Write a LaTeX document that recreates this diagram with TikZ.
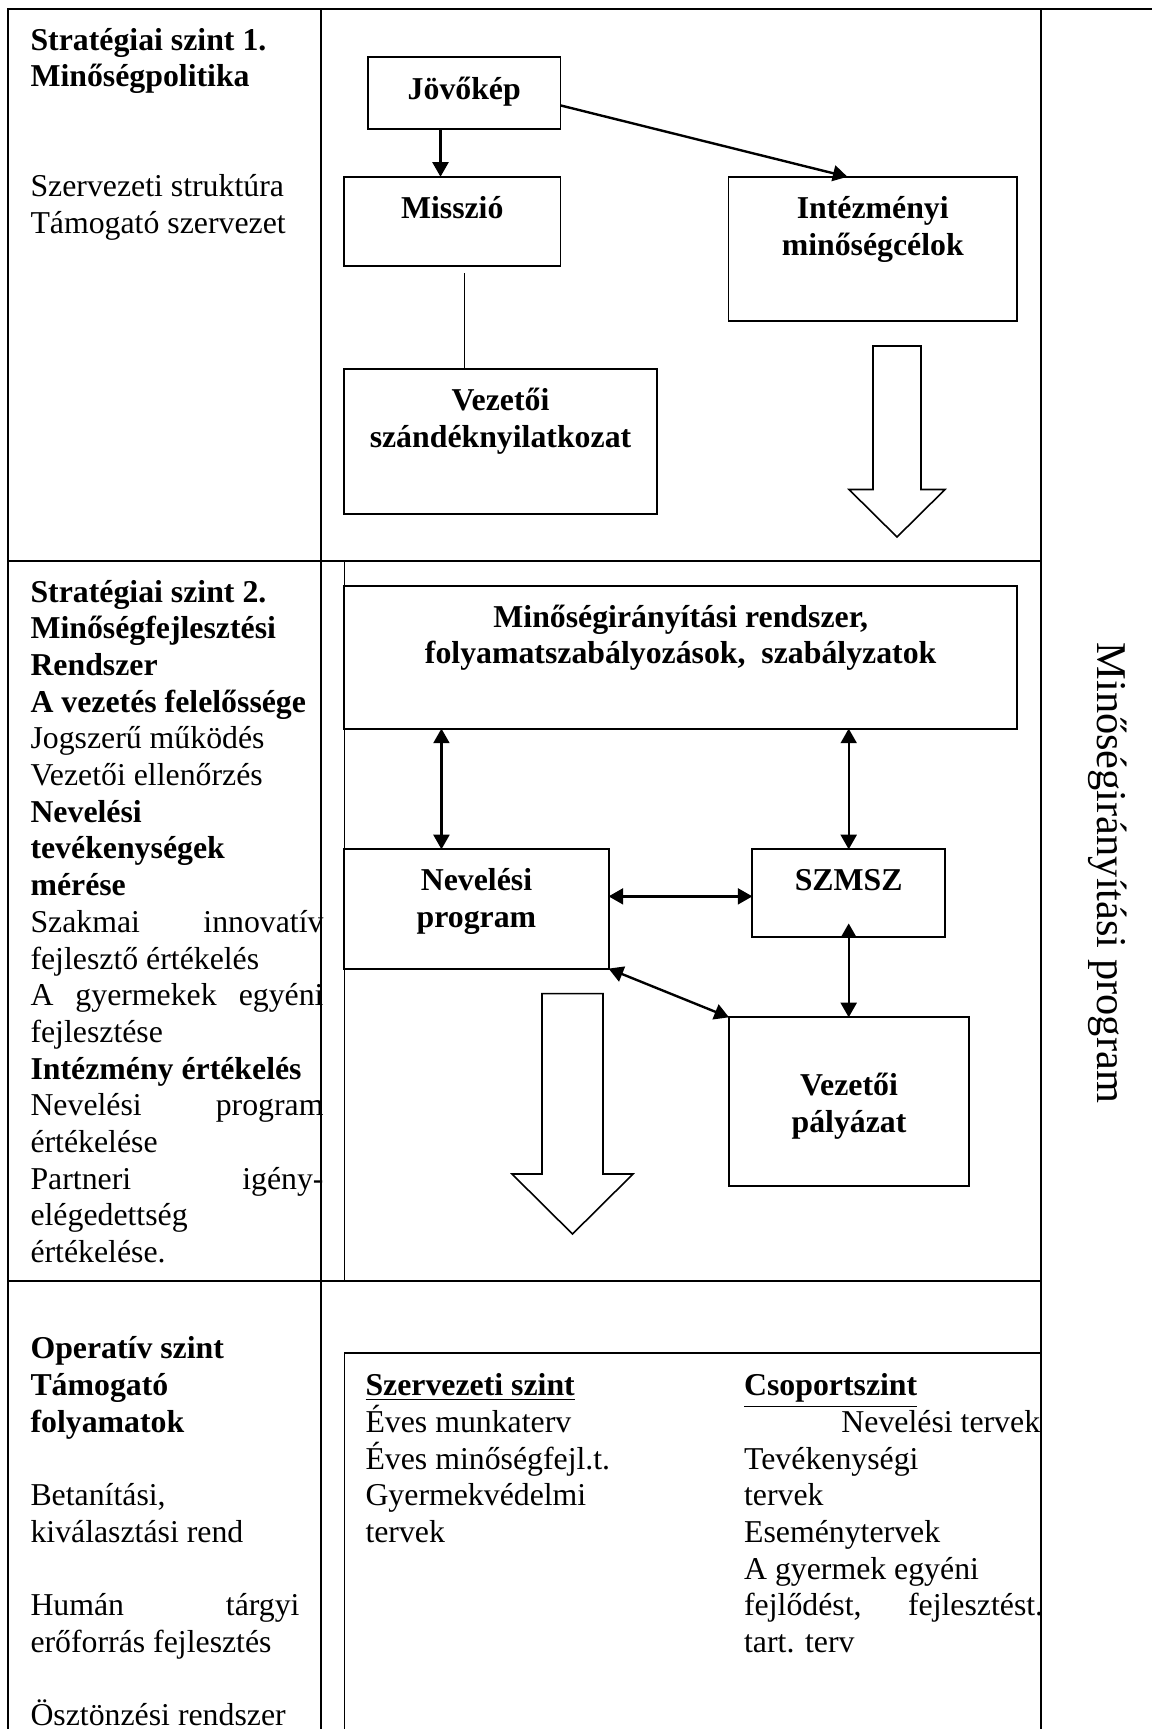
\documentclass[tikz,border=0pt]{standalone}
\usepackage{fontspec}
\setmainfont{Liberation Serif}
\usetikzlibrary{arrows.meta,calc}

% one drawing unit = one pixel of the 1152 x 1729 sheet
\newcommand\pxl[1]{#1*0.37736pt}
\newcommand\pxd[1]{\dimexpr #1pt*37736/100000\relax}
% a column of text lines set with a fixed line pitch
\newcommand\txtcol[2]{\vtop{\hsize=#1\baselineskip=13.85pt\lineskiplimit=-100pt\lineskip=0pt\parindent=0pt #2}}
\newcommand\tline[1]{\hbox{#1}}
\newcommand\jline[2]{\hbox to\hsize{#1\hfill #2}}
\newcommand\ctrline[1]{\hbox to\hsize{\hfil #1\hfil}}
\newcommand\blankline{\hbox{}}

\tikzset{
  tbl/.style={line width=0.75pt},
  box/.style={draw, line width=0.75pt, inner sep=0pt, outer sep=0pt, anchor=north west},
  btxt/.style={anchor=base, inner sep=0pt, font=\fontsize{12}{13.85}\selectfont\bfseries},
  ltxt/.style={anchor=base west, inner sep=0pt, font=\fontsize{12}{13.85}\selectfont},
  arrowtip/.tip={Triangle[length=5.5pt,width=6pt]},
  arr/.style={-arrowtip, line width=0.9pt},
  darr/.style={arrowtip-arrowtip, line width=0.9pt},
  link/.style={line width=0.5pt},
  block/.style={line width=0.6pt, fill=white, line join=miter}
}

\begin{document}
\begin{tikzpicture}[x=0.37736pt, y=-0.37736pt]
\useasboundingbox (0,0) rectangle (1152,1729);

% ---- table grid ----
\draw[tbl] (7,9) -- (1152,9);
\draw[tbl] (8,9) -- (8,1729);
\draw[tbl] (321,9) -- (321,1729);
\draw[tbl] (1041,9) -- (1041,1729);
\draw[tbl] (8,561) -- (1041,561);
\draw[tbl] (344.5,561) -- (344.5,1281);
\draw[tbl] (8,1281) -- (1041,1281);
% frame of the operative-level box
\draw[tbl] (344.5,1729) -- (344.5,1353) -- (1041,1353);

% ---- left column texts ----
\node[ltxt] (lev1) at (30,50) {\txtcol{\pxd{293}}{\bfseries
  \tline{Stratégiai szint 1.}
  \tline{Minőségpolitika}
  \blankline\blankline\mdseries
  \tline{Szervezeti struktúra}
  \tline{Támogató szervezet}}};

\node[ltxt] (lev2) at (30,602) {\txtcol{\pxd{293}}{\bfseries
  \tline{Stratégiai szint 2.}
  \tline{Minőségfejlesztési}
  \tline{Rendszer}
  \tline{A vezetés felelőssége}\mdseries
  \tline{Jogszerű működés}
  \tline{Vezetői ellenőrzés}\bfseries
  \tline{Nevelési}
  \tline{tevékenységek}
  \tline{mérése}\mdseries
  \jline{Szakmai}{innovatív}
  \tline{fejlesztő értékelés}
  \hbox to\hsize{A\hfill gyermekek\hfill egyéni}
  \tline{fejlesztése}
  \tline{\bfseries Intézmény értékelés}
  \jline{Nevelési}{program}
  \tline{értékelése}
  \jline{Partneri}{igény-}
  \tline{elégedettség}
  \tline{értékelése.}}};

\node[ltxt] (lev3) at (30,1322) {\txtcol{\pxd{269}}{
  \blankline\bfseries
  \tline{Operatív szint}
  \tline{Támogató}
  \tline{folyamatok}
  \blankline\mdseries
  \tline{Betanítási,}
  \tline{kiválasztási rend}
  \blankline
  \jline{Humán}{tárgyi}
  \tline{erőforrás fejlesztés}
  \blankline
  \tline{Ösztönzési rendszer}}};

% ---- strategic level 1 ----
\node[box, minimum width=\pxl{192.5}, minimum height=\pxl{72.1}] (jov) at (368,56.6) {};
\node[box, minimum width=\pxl{216.5}, minimum height=\pxl{88.8}] (mis) at (344,176.8) {};
\node[box, minimum width=\pxl{288.5}, minimum height=\pxl{144.2}] (int) at (728.5,176.8) {};
\node[box, minimum width=\pxl{313}, minimum height=\pxl{144.5}] (vsz) at (344,369) {};

\node[btxt] (jov-t) at ($(jov.north)+(0,42.5)$) {\txtcol{\pxd{180}}{\ctrline{Jövőkép}}};
\node[btxt] (mis-t) at ($(mis.north)+(0,41.5)$) {\txtcol{\pxd{200}}{\ctrline{Misszió}}};
\node[btxt] (int-t) at ($(int.north)+(0,41.5)$) {\txtcol{\pxd{280}}{\ctrline{Intézményi}\ctrline{minőségcélok}}};
\node[btxt] (vsz-t) at ($(vsz.north)+(0,41.5)$) {\txtcol{\pxd{300}}{\ctrline{Vezetői}\ctrline{szándéknyilatkozat}}};

\coordinate (a1) at ($(jov.south)+(-23.75,0)$);
\draw[arr] (a1) -- (a1 |- mis.north);
\coordinate (a2s) at ($(jov.east)+(0,12.75)$);
\coordinate (a2e) at ($(int.north)+(-25.25,0)$);
\draw[arr] (a2s) -- (a2e);
\coordinate (l1) at ($(mis.south)+(12.25,7.4)$);
\draw[link] (l1) -- (l1 |- vsz.north);

\draw[block] (873,346) -- (921,346) -- (921,489.5) -- (945,489.5) -- (897,537)
  -- (849,489.5) -- (873,489.5) -- cycle;

% ---- strategic level 2 ----
\node[box, minimum width=\pxl{672.7}, minimum height=\pxl{142.9}] (mir) at (344.3,585.7) {};
\node[box, minimum width=\pxl{264.3}, minimum height=\pxl{119.3}] (nev) at (344.3,849.3) {};
\node[box, minimum width=\pxl{192.6}, minimum height=\pxl{88.1}] (szm) at (752.4,849.3) {};
\node[box, minimum width=\pxl{240}, minimum height=\pxl{168.4}] (vpa) at (729,1017.3) {};

\node[btxt] (mir-t) at ($(mir.north)+(0,41.5)$) {\txtcol{\pxd{660}}{\ctrline{Minőségirányítási rendszer,}\ctrline{folyamatszabályozások,\ \ szabályzatok}}};
\node[btxt] (nev-t) at ($(nev.north)+(0,41.5)$) {\txtcol{\pxd{250}}{\ctrline{Nevelési}\ctrline{program}}};
\node[btxt] (szm-t) at ($(szm.north)+(0,41.5)$) {\txtcol{\pxd{180}}{\ctrline{SZMSZ}}};
\node[btxt] (vpa-t) at ($(vpa.north)+(0,78.2)$) {\txtcol{\pxd{230}}{\ctrline{Vezetői}\ctrline{pályázat}}};

\coordinate (a3) at ($(nev.north)+(-35,0)$);
\draw[darr] (a3 |- mir.south) -- (a3);
\draw[darr] (szm.north |- mir.south) -- (szm.north);
\coordinate (a4) at ($(szm.west)+(0,3)$);
\draw[darr] (a4 -| nev.east) -- (a4);
\coordinate (a5) at ($(szm.south)+(0,-14)$);
\draw[darr] (a5) -- (a5 |- vpa.north);
\draw[darr] (nev.south east) -- (vpa.north west);

\draw[block] (542,993.6) -- (603,993.6) -- (603,1174) -- (633,1174) -- (572.5,1234)
  -- (512,1174) -- (542,1174) -- cycle;

% ---- operative level ----
\node[ltxt] (org) at (365,1395.6) {\txtcol{\pxd{300}}{
  \tline{\bfseries\underline{Szervezeti szint}}
  \tline{Éves munkaterv}
  \tline{Éves minőségfejl.t.}
  \tline{Gyermekvédelmi}
  \tline{tervek}}};
\node[ltxt] (grp) at (743.6,1395.6) {\txtcol{\pxd{296}}{
  \tline{\bfseries\underline{Csoportszint}}
  \hbox to\hsize{\hfill Nevelési tervek}
  \tline{Tevékenységi}
  \tline{tervek}
  \tline{Eseménytervek}
  \tline{A gyermek egyéni}
  \hbox to\pxd{299}{fejlődést,\hfill fejlesztést.}
  \tline{tart. terv}}};

% ---- right column ----
\node[anchor=base west, rotate=-90, inner sep=0pt, font=\fontsize{16}{18}\selectfont] (side) at (1097,642) {Minőségirányítási program};
\end{tikzpicture}
\end{document}
